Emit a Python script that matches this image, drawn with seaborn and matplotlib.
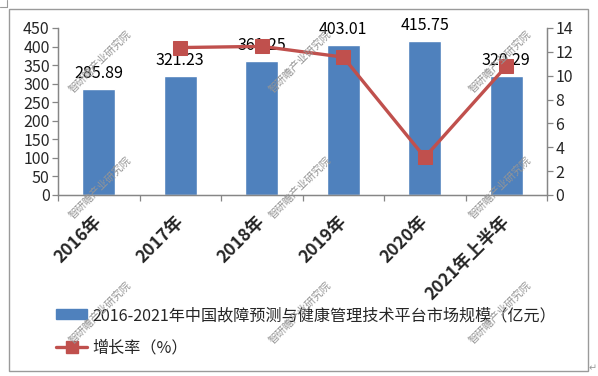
import numpy as np
import seaborn as sns
import matplotlib.pyplot as plt
from matplotlib.patches import Rectangle
from matplotlib.lines import Line2D

# data
years = ['2016年', '2017年', '2018年', '2019年', '2020年', '2021年上半年']
market_size = [285.89, 321.23, 361.25, 403.01, 415.75, 320.29]
growth_rate = [12.36, 12.46, 11.56, 3.16, 10.8]   # from 2017 on
bar_label = '2016-2021年中国故障预测与健康管理技术平台市场规模（亿元）'
line_label = '增长率（%）'
watermark = '智研瞻产业研究院'

BAR_COLOR = '#4F81BD'
LINE_COLOR = '#C0504D'
AXIS_COLOR = '#868686'

sns.set_style('white')
plt.rcParams['font.family'] = ['Noto Sans CJK SC', 'DejaVu Sans']

fig = plt.figure(figsize=(5.98, 3.76), dpi=100)
W, H = 598, 376
ax = fig.add_axes([58 / W, 1 - 195 / H, (547 - 58) / W, (195 - 28) / H])

sns.barplot(x=years, y=market_size, color=BAR_COLOR, width=0.4,
            saturation=1, ax=ax, zorder=2)
ax.set_xlim(-0.5, len(years) - 0.5)
ax.set_ylim(0, 450)
ax.set_yticks(np.arange(0, 451, 50))

# data labels
for i, v in enumerate(market_size):
    ax.annotate(f'{v:.2f}', (i, v), xytext=(0, 5), textcoords='offset points',
                ha='center', va='bottom', fontsize=11.5, color='black', zorder=5)

# growth line on secondary axis
ax2 = ax.twinx()
sns.lineplot(x=np.arange(1, len(years)), y=growth_rate, ax=ax2, color=LINE_COLOR,
             linewidth=2.4, marker='s', markersize=9.5, markeredgecolor=LINE_COLOR,
             markerfacecolor=LINE_COLOR, zorder=4)
ax2.set_ylim(0, 14)
ax2.set_yticks(np.arange(0, 15, 2))

# axes styling
for a in (ax, ax2):
    a.grid(False)
    a.spines['top'].set_visible(False)
    for s in ('left', 'right', 'bottom'):
        a.spines[s].set_color(AXIS_COLOR)
        a.spines[s].set_linewidth(0.9)
ax.tick_params(axis='y', left=True, length=4, width=0.9, color=AXIS_COLOR,
               labelsize=11.5, pad=2)
ax2.tick_params(axis='y', right=True, length=4, width=0.9, color=AXIS_COLOR,
                labelsize=11.5, pad=2)

ax.set_xticks(range(len(years)))
ax.set_xticklabels(years, rotation=45, ha='right', va='center',
                   rotation_mode='anchor', fontsize=12.5, fontweight='bold')
ax.set_xticks(np.arange(-0.5, len(years), 1), minor=True)
ax.tick_params(axis='x', which='major', length=0, pad=17)
ax.tick_params(axis='x', which='minor', bottom=True, length=4, width=0.9,
               color=AXIS_COLOR)
ax.set_xlabel('')
ax.set_ylabel('')
ax2.set_ylabel('')
ax.set_zorder(1)
ax2.set_zorder(2)
ax.patch.set_visible(False)

# legend
handles = [Rectangle((0, 0), 1, 1, facecolor=BAR_COLOR, edgecolor=BAR_COLOR),
           Line2D([], [], color=LINE_COLOR, linewidth=2.4, marker='s',
                  markersize=9, markerfacecolor=LINE_COLOR)]
fig.legend(handles, [bar_label, line_label], loc='upper left',
           bbox_to_anchor=(56 / W, 1 - 307 / H), frameon=False, fontsize=11.6,
           handlelength=1.95, handleheight=0.6, handletextpad=0.3,
           labelspacing=0.95, borderpad=0, borderaxespad=0)

# watermarks
for wx in (100, 300, 500):
    for wy in (62, 188, 313):
        fig.text(wx / W, 1 - wy / H, watermark, rotation=45, ha='center',
                 va='center', fontsize=7.5, color='#959595', zorder=10)

# outer frame and page marks
fig.add_artist(Rectangle((9 / W, 1 - 371 / H), (588 - 9) / W, (371 - 9) / H,
                         transform=fig.transFigure, fill=False,
                         edgecolor='#9a9a9a', linewidth=1))
fig.add_artist(Line2D([0, 7 / W], [1 - 7 / H, 1 - 7 / H], transform=fig.transFigure,
                      color='#9a9a9a', linewidth=0.8))
fig.add_artist(Line2D([7 / W, 7 / W], [1 - 7 / H, 1], transform=fig.transFigure,
                      color='#9a9a9a', linewidth=0.8))
fig.text(589 / W, 1 - 368 / H, '↵', fontsize=7, color='#9a9a9a',
         family='DejaVu Sans', ha='left', va='center')

fig.savefig('out.png', dpi=100)
